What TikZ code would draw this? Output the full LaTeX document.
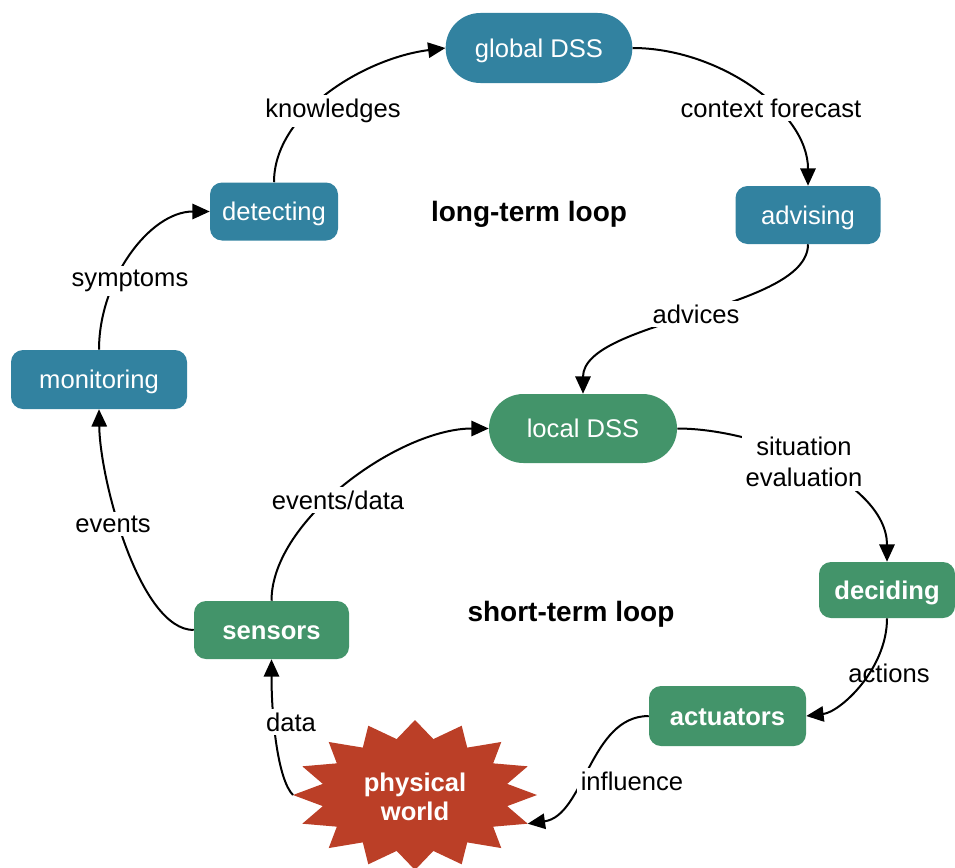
\documentclass[tikz,border=0pt]{standalone}
\usepackage{fontspec}
\setmainfont{Liberation Sans}
\usetikzlibrary{arrows.meta}
\definecolor{lblue}{HTML}{3282A0}
\definecolor{sgreen}{HTML}{43946A}
\definecolor{wred}{HTML}{BB3F27}
\begin{document}
\begin{tikzpicture}[x=0.75pt,y=-0.75pt,
  every node/.style={font=\fontsize{19.2}{23}\selectfont},
  box/.style={rectangle, rounded corners=9pt, text=white, inner sep=0pt, text height=14pt, text depth=0pt},
  bluebox/.style={box, fill=lblue},
  greenbox/.style={box, fill=sgreen, font=\fontsize{19.2}{23}\selectfont\bfseries},
  lab/.style={fill=white, inner sep=3pt, align=center},
  loopname/.style={font=\fontsize{21}{25}\selectfont\bfseries},
  conn/.style={line width=1.5pt, -{Triangle[length=13pt,width=11.5pt]}},
]
\useasboundingbox (0,0) rectangle (955,867);

% nodes
\node[bluebox, minimum width=140pt, minimum height=52.5pt, rounded corners=26pt] (global) at (539,48) {global DSS};
\node[bluebox, minimum width=96pt, minimum height=43.5pt] (detecting) at (274,211.5) {detecting};
\node[bluebox, minimum width=108.75pt, minimum height=43.5pt] (advising) at (808,215) {advising};
\node[bluebox, minimum width=132pt, minimum height=44.25pt] (monitoring) at (99,379.5) {monitoring};
\node[box, fill=sgreen, minimum width=141pt, minimum height=51.75pt, rounded corners=25.8pt] (local) at (583,428.5) {local DSS};
\node[greenbox, minimum width=102pt, minimum height=42pt] (deciding) at (887,590) {deciding};
\node[greenbox, minimum width=117.75pt, minimum height=45pt] (actuators) at (727.5,716) {actuators};
\node[greenbox, minimum width=116.25pt, minimum height=43.5pt] (sensors) at (271.5,630) {sensors};

% physical world star
\fill[wred] plot[samples at={0,...,31}] ({415+ifthenelse(mod(\x,2)==0,122,94)*cos(\x*11.25)}, {795-ifthenelse(mod(\x,2)==0,75,57)*sin(\x*11.25)}) -- cycle;
\node[font=\fontsize{19.2}{22}\selectfont\bfseries, text=white, align=center] (world) at (415,797) {physical\\world};
\coordinate (worldL) at (293,795);
\coordinate (worldR) at ({415+122*cos(22.5)},{795+75*sin(22.5)});

% connectors
\draw[conn] (detecting.north) .. controls +(0,-70) and +(-80,10) .. (global.west);
\draw[conn] (global.east) .. controls +(85,0) and +(0,-75) .. (advising.north);
\draw[conn] (advising.south) .. controls +(0,66) and +(0,-74) .. (local.north);
\draw[conn] (local.east) .. controls +(83,0) and +(0,-80) .. (deciding.north);
\draw[conn] (deciding.south) .. controls +(0,51) and +(34,-4) .. (actuators.east);
\draw[conn] (actuators.west) .. controls +(-59,0) and +(57,-8) .. (worldR);
\draw[conn] (worldL) .. controls +(-15,-15) and +(0,60) .. (sensors.south);
\draw[conn] (sensors.north) .. controls +(0,-81) and +(-89,0) .. (local.west);
\draw[conn] (sensors.west) .. controls +(-54,0) and +(1,71) .. (monitoring.south);
\draw[conn] (monitoring.north) .. controls +(0,-70) and +(-60,0) .. (detecting.west);

% labels
\node[lab] (lknow) at (333,111) {knowledges};
\node[lab] (lctx) at (771,108) {context forecast};
\node[lab] (ladv) at (696,314) {advices};
\node[lab] (lsit) at (804,462) {situation\\evaluation};
\node (lact) at (889,673) {actions};
\node[lab] (linf) at (632,781) {influence};
\node[lab] (ldata) at (291,722) {data};
\node[lab] (levd) at (338,500) {events/data};
\node[lab] (lev) at (113,524) {events};
\node[lab] (lsym) at (130,281) {symptoms};
\node[loopname] (long) at (529,214) {long-term loop};
\node[loopname] (short) at (571,614) {short-term loop};
\end{tikzpicture}
\end{document}
